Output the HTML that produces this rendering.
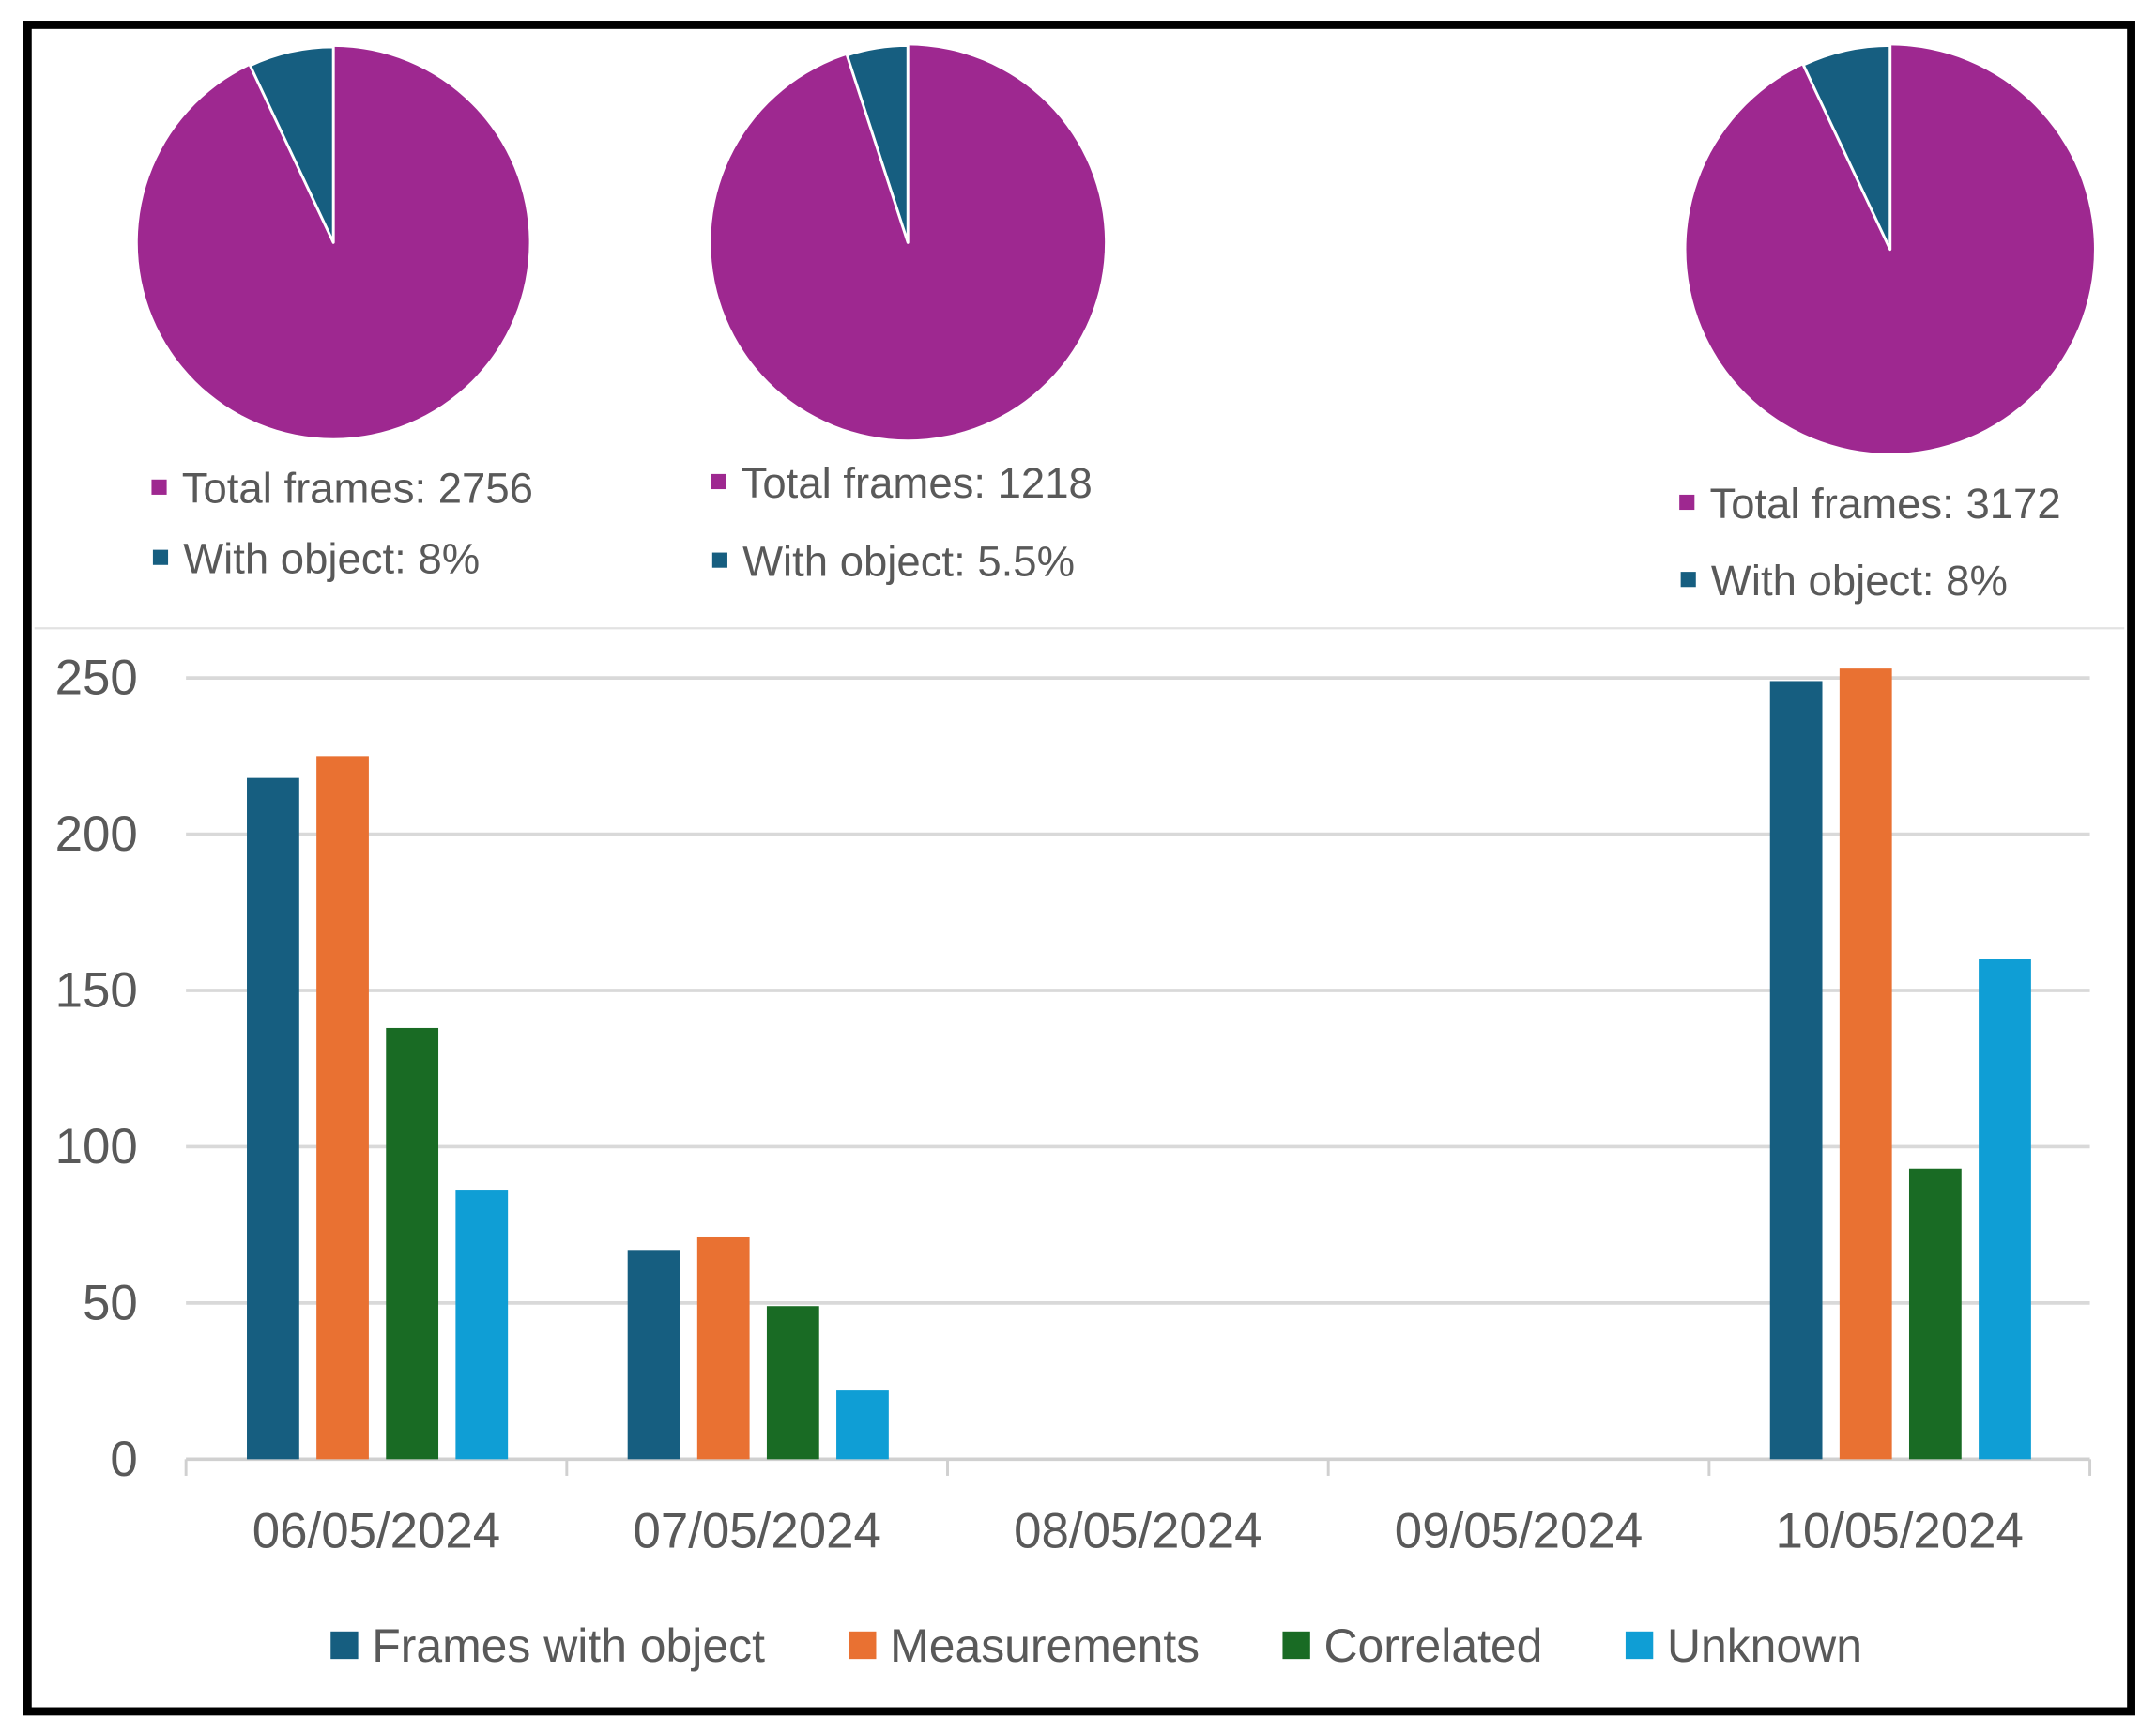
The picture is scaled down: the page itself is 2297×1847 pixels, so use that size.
<!DOCTYPE html>
<html><head><meta charset="utf-8"><style>
html,body{margin:0;padding:0;background:#fff;}
svg{display:block;}
text{font-family:"Liberation Sans",sans-serif;}
</style></head><body>
<svg id="chart" width="2297" height="1847" viewBox="0 0 1565 1258.4" preserveAspectRatio="none" xmlns="http://www.w3.org/2000/svg">
<rect x="0" y="0" width="1565" height="1258.4" fill="#fff"/>
<rect x="20" y="18" width="1527" height="1224" fill="none" stroke="#000" stroke-width="6"/>
<line x1="25" y1="456" x2="1542" y2="456" stroke="#e2e2e2" stroke-width="1.5"/>
<g id="pies"></g>
<g id="bars"></g>
</svg>
<script>
const pieTotals = [2756, 1218, 3172];
const pieLabels = ["With object: 8%", "With object: 5.5%", "With object: 8%"];
const pieSliceFractions = [0.07, 0.05, 0.07];
const categories = ["06/05/2024","07/05/2024","08/05/2024","09/05/2024","10/05/2024"];
const seriesNames = ["Frames with object","Measurements","Correlated","Unknown"];
const framesWithObject = [218, 67, 0, 0, 249];
const measurements = [225, 71, 0, 0, 253];
const correlated = [138, 49, 0, 0, 93];
const unknown = [86, 22, 0, 0, 160];
const yTicks = [0, 50, 100, 150, 200, 250];

const NS = "http://www.w3.org/2000/svg";
function mk(tag, attrs, parent){const e=document.createElementNS(NS,tag);for(const k in attrs)e.setAttribute(k,attrs[k]);parent.appendChild(e);return e;}
const purple="#9e2890", dblue="#165e80", orange="#e97132", green="#196b24", lblue="#0f9ed5";

const pieG=document.getElementById('pies');
const pieGeo=[{cx:242,cy:176,r:142,lx:110,ly1:354,ly2:405},{cx:659,cy:176,r:143,lx:516,ly1:350,ly2:407},{cx:1372,cy:181,r:148,lx:1219,ly1:365,ly2:421}];
pieGeo.forEach((g,i)=>{
  const c=mk('circle',{cx:g.cx,cy:g.cy,r:g.r,fill:purple},pieG);
  
  
  const a=pieSliceFractions[i]*2*Math.PI;
  const x=g.cx-g.r*Math.sin(a), y=g.cy-g.r*Math.cos(a);
  const p=mk('path',{d:`M${g.cx},${g.cy} L${g.cx},${g.cy-g.r} A${g.r},${g.r} 0 0 0 ${x},${y} Z`,fill:dblue,stroke:"#fff","stroke-width":2,"stroke-linejoin":"round"},pieG);
  
  
  const m1=mk('rect',{x:g.lx,y:g.ly1-6,width:11,height:11,fill:purple},pieG);
  
  
  const t1=mk('text',{x:g.lx+22,y:g.ly1+11,"font-size":31,fill:"#595959"},pieG);
  t1.textContent="Total frames: "+pieTotals[i];
  
  
  const m2=mk('rect',{x:g.lx+1,y:g.ly2-6,width:11,height:11,fill:dblue},pieG);
  
  
  const t2=mk('text',{x:g.lx+23,y:g.ly2+11,"font-size":31,fill:"#595959"},pieG);
  t2.textContent=pieLabels[i];
  
  
});

const barG=document.getElementById('bars');
const X0=135,X1=1517,Y0=1059,YTOP=492,VMAX=250;
const yScale=v=>Y0-(v/VMAX)*(Y0-YTOP);
const catW=(X1-X0)/categories.length;
yTicks.forEach(v=>{
  const y=yScale(v);
  const l=mk('line',{x1:X0,x2:X1,y1:y,y2:y,stroke:v===0?"#d0d0d0":"#d9d9d9","stroke-width":2.5},barG);
  
  
  const t=mk('text',{x:100,y:y+12,"font-size":36,fill:"#595959","text-anchor":"end"},barG);
  t.textContent=v;
  
  
});
for(let i=0;i<=categories.length;i++){
  const x=X0+i*catW;
  const l=mk('line',{x1:x,x2:x,y1:Y0,y2:Y0+12,stroke:"#d0d0d0","stroke-width":2},barG);
  
  
}
const series=[framesWithObject,measurements,correlated,unknown];
const cols=[dblue,orange,green,lblue];
const bw=38, step=50.5;
categories.forEach((c,ci)=>{
  const cx=X0+(ci+0.5)*catW;
  series.forEach((s,si)=>{
    const v=s[ci]; if(!v) return;
    const x=cx-94+si*step;
    const r=mk('rect',{x:x,y:yScale(v),width:bw,height:Y0-yScale(v),fill:cols[si]},barG);
    
    
  });
  const t=mk('text',{x:cx,y:1123,"font-size":36,fill:"#595959","text-anchor":"middle"},barG);
  t.textContent=c;
  
  
});
const legX=[240,616,931,1180];
seriesNames.forEach((n,i)=>{
  const r=mk('rect',{x:legX[i],y:1184,width:20,height:20,fill:cols[i]},barG);
  
  
  const t=mk('text',{x:legX[i]+30,y:1206,"font-size":34,fill:"#595959"},barG);
  t.textContent=n;
  
  
});
</script>
</body></html>
